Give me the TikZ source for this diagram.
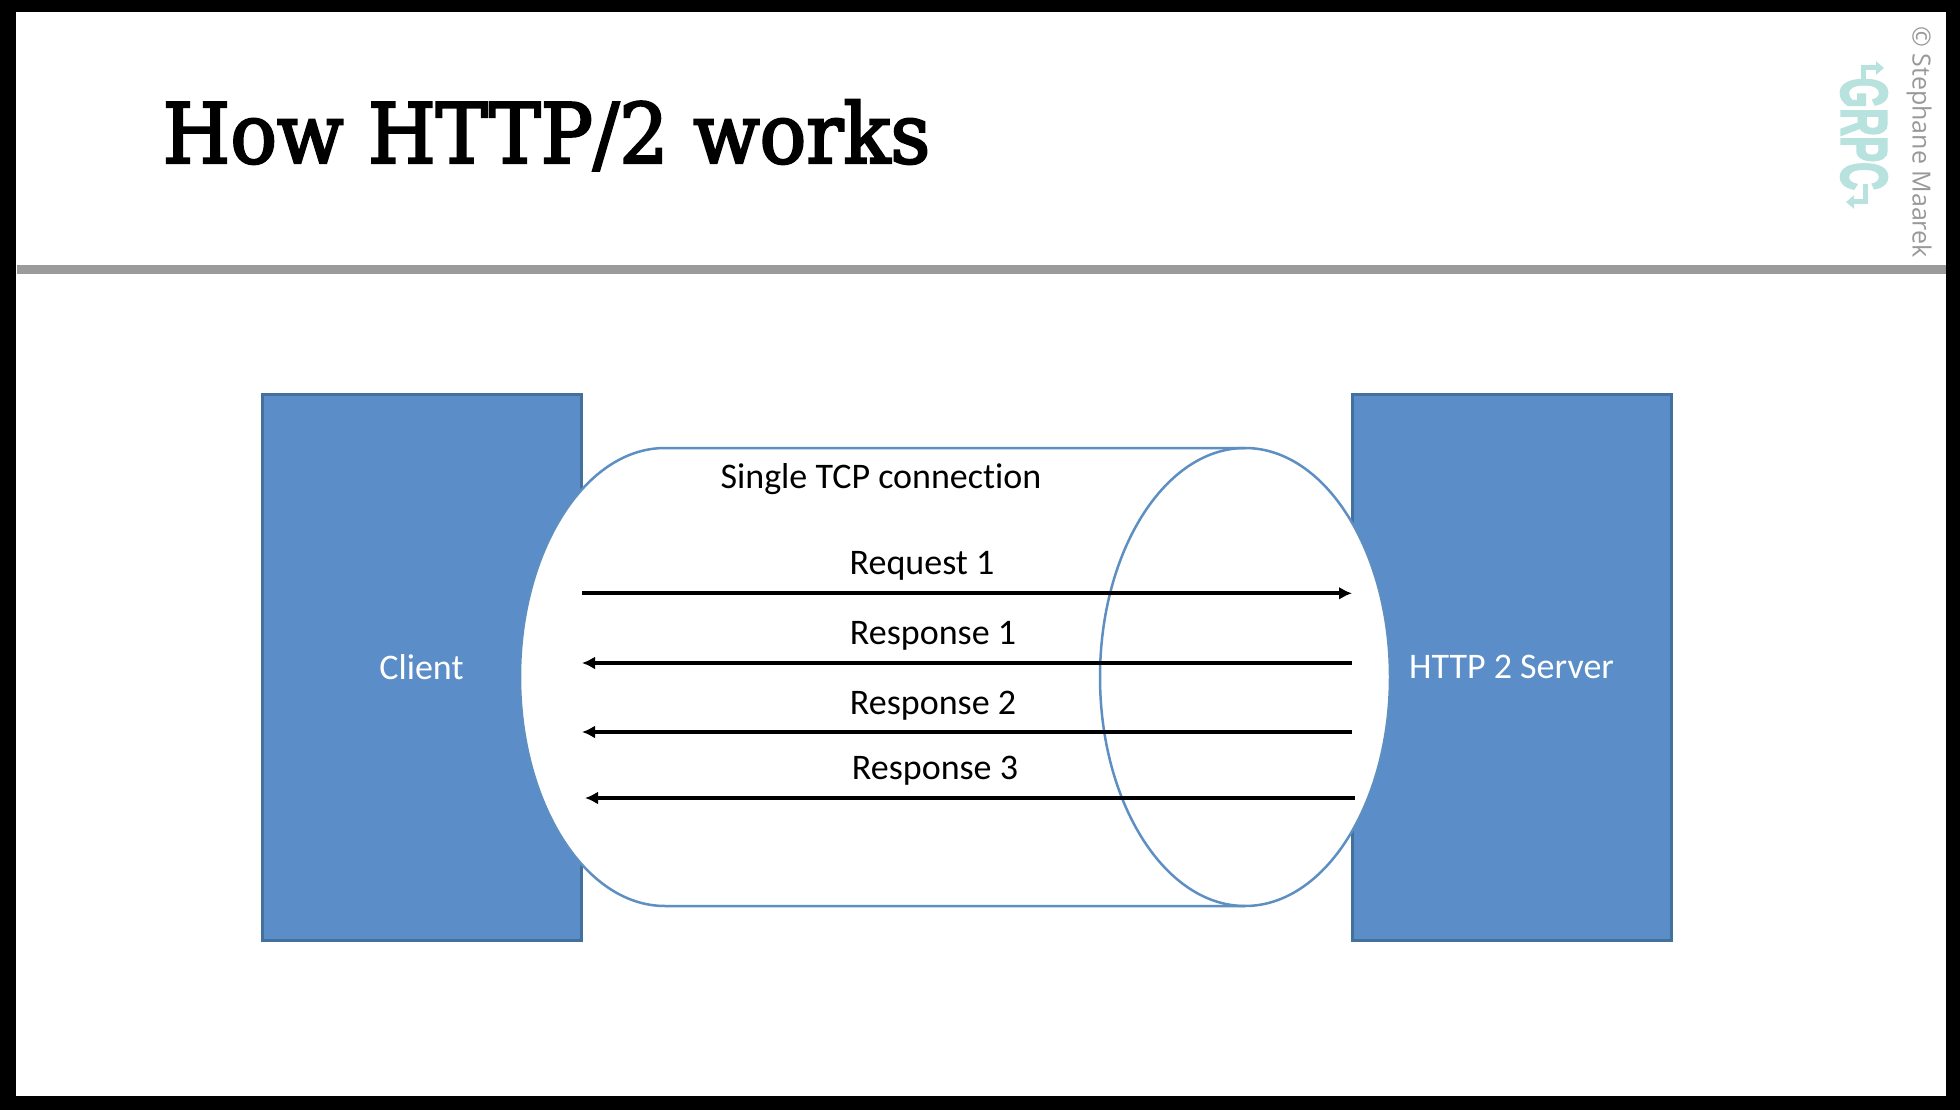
\documentclass[tikz,border=0pt]{standalone}
\usepackage{fontspec}
\setmainfont{Carlito}[Ligatures=NoCommon]
\newfontfamily\titlefont{DejaVu Serif}[FakeBold=3]
\newfontfamily\logofont{Liberation Sans}[FakeBold=3]
\newfontfamily\credfont{Open Sans}
\usetikzlibrary{arrows.meta}
\definecolor{boxfill}{HTML}{5B8DC8}
\definecolor{boxline}{HTML}{41719C}
\definecolor{cylline}{HTML}{5D8FC2}
\definecolor{barcol}{HTML}{9B9B9B}
\definecolor{logocol}{HTML}{B8E2DE}
\tikzset{
  x=1pt,y=-1pt,
  serverbox/.style={draw=boxline,line width=3pt,fill=boxfill,minimum width=319pt,minimum height=546pt,inner sep=0pt},
  msg/.style={line width=4pt,black,-{Latex[length=13pt,width=13pt]}},
  lbl/.style={font=\fontsize{36}{36}\selectfont,inner sep=0pt,text=black},
  wlbl/.style={font=\fontsize{36}{36}\selectfont,inner sep=0pt,text=white},
  cyl/.style={draw=cylline,line width=2.5pt},
  logoarrow/.style={draw=logocol,line width=5pt,-{Triangle[length=8pt,width=13pt]}}
}
\begin{document}
\begin{tikzpicture}
\useasboundingbox (0,0) rectangle (1960,1110);
\fill[black] (0,0) rectangle (1960,1110);
\fill[white] (16,12) rectangle (1946,1096);
\fill[barcol] (17,265) rectangle (1946,274);
\node[font=\titlefont\fontsize{83}{83}\selectfont,inner sep=0pt,anchor=base west,xscale=0.935] (title) at (162.5,163) {How HTTP/2 works};
\node[serverbox] (client) at (421.5,667) {};
\node[serverbox] (server) at (1511.5,667) {};
\node[wlbl] (clientlbl) at (421.5,667) {Client};
\node[wlbl] (serverlbl) at (1511.5,667) {HTTP 2 Server};
\path[cyl,fill=white] (1245,448) -- (665,448) .. controls (585,448) and (520,551) .. (520,677) .. controls (520,803) and (585,906) .. (665,906) -- (1245,906) .. controls (1325,906) and (1390,803) .. (1390,677) .. controls (1390,551) and (1325,448) .. (1245,448) -- cycle;
\draw[cyl] (1245,448) .. controls (1165,448) and (1100,551) .. (1100,677) .. controls (1100,803) and (1165,906) .. (1245,906);
\node[lbl] (tcp) at (881,479) {Single TCP connection};
\coordinate (a1) at (582,593.3); \coordinate (b1) at (1352,593.3);
\coordinate (a2) at (582,663); \coordinate (b2) at (1352,663);
\coordinate (a3) at (582,732); \coordinate (b3) at (1352,732);
\coordinate (a4) at (585,798); \coordinate (b4) at (1355,798);
\draw[msg] (a1) -- (b1);
\draw[msg] (b2) -- (a2);
\draw[msg] (b3) -- (a3);
\draw[msg] (b4) -- (a4);
\node[lbl] (r1) at (922,566) {Request 1};
\node[lbl] (r2) at (933,636) {Response 1};
\node[lbl] (r3) at (933,706) {Response 2};
\node[lbl] (r4) at (935,771) {Response 3};
\node[rotate=-90,text=black!40,inner sep=0pt,font=\credfont\fontsize{25}{25}\selectfont] (cred) at (1919,142) {© Stephane Maarek};
\node[rotate=-90,xscale=0.59,text=logocol,inner sep=0pt,font=\logofont\bfseries\fontsize{66}{66}\selectfont] (logo) at (1864,134) {GRPC};
\draw[logoarrow] (1863,80) -- (1863,68) -- (1884,68);
\draw[logoarrow] (1865,184) -- (1865,202) -- (1846,202);
\end{tikzpicture}
\end{document}
